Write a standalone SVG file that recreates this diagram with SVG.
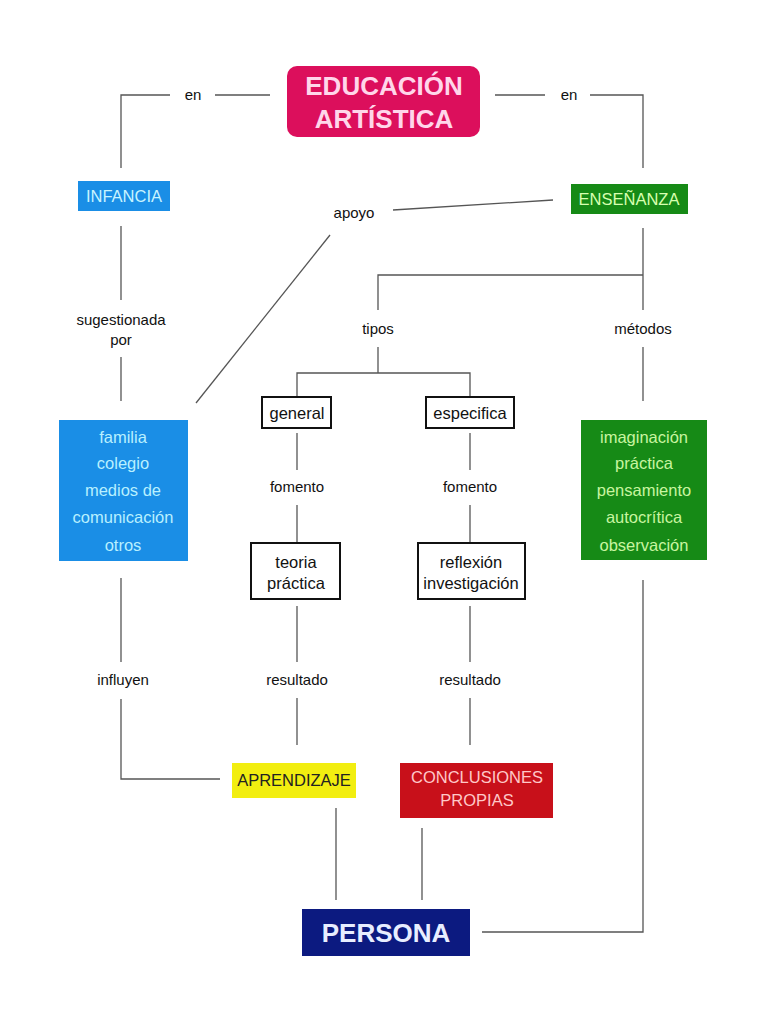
<svg xmlns="http://www.w3.org/2000/svg" width="768" height="1024" viewBox="0 0 768 1024">
<style>
text{font-family:"Liberation Sans",Arial,sans-serif;text-anchor:middle}
.lbl{font-size:15px;fill:#111}
.ln{stroke:#555;stroke-width:1.3;fill:none}
.bx{font-size:16.5px}
.wb{fill:#fff;stroke:#111;stroke-width:2}
</style>
<rect width="768" height="1024" fill="#fff"/>
<g id="connectors">
<polyline class="ln" points="170,95 121,95 121,168"/>
<line class="ln" x1="215" y1="95" x2="270" y2="95"/>
<line class="ln" x1="495" y1="95" x2="545" y2="95"/>
<polyline class="ln" points="590,95 643,95 643,168"/>
<line class="ln" x1="393" y1="210" x2="553" y2="200"/>
<line class="ln" x1="330" y1="235" x2="196" y2="403"/>
<line class="ln" x1="121" y1="226" x2="121" y2="300"/>
<line class="ln" x1="121" y1="357" x2="121" y2="401"/>
<line class="ln" x1="643" y1="228" x2="643" y2="310"/>
<polyline class="ln" points="643,275 378,275 378,310"/>
<line class="ln" x1="643" y1="347" x2="643" y2="401"/>
<line class="ln" x1="378" y1="347" x2="378" y2="373"/>
<polyline class="ln" points="297,396 297,373 470,373 470,396"/>
<line class="ln" x1="297" y1="433" x2="297" y2="470"/>
<line class="ln" x1="297" y1="505" x2="297" y2="542"/>
<line class="ln" x1="470" y1="433" x2="470" y2="470"/>
<line class="ln" x1="470" y1="505" x2="470" y2="542"/>
<line class="ln" x1="297" y1="606" x2="297" y2="662"/>
<line class="ln" x1="297" y1="698" x2="297" y2="745"/>
<line class="ln" x1="470" y1="606" x2="470" y2="662"/>
<line class="ln" x1="470" y1="698" x2="470" y2="745"/>
<line class="ln" x1="121" y1="578" x2="121" y2="662"/>
<polyline class="ln" points="121,699 121,779 220,779"/>
<line class="ln" x1="336" y1="808" x2="336" y2="900"/>
<line class="ln" x1="422" y1="828" x2="422" y2="900"/>
<polyline class="ln" points="643,580 643,932 482,932"/>
<text class="lbl" x="193" y="100">en</text>
<text class="lbl" x="569" y="100">en</text>
<text class="lbl" x="354" y="218">apoyo</text>
<text class="lbl" x="121" y="325">sugestionada</text>
<text class="lbl" x="121" y="345">por</text>
<text class="lbl" x="378" y="334">tipos</text>
<text class="lbl" x="643" y="334">métodos</text>
<text class="lbl" x="297" y="492">fomento</text>
<text class="lbl" x="470" y="492">fomento</text>
<text class="lbl" x="123" y="685">influyen</text>
<text class="lbl" x="297" y="685">resultado</text>
<text class="lbl" x="470" y="685">resultado</text>
</g>
<g id="educacion">
<rect x="287" y="66" width="193" height="71" rx="10" fill="#dc0f5c"/>
<text x="384" y="95" font-size="26" font-weight="bold" fill="#ffd6ea">EDUCACIÓN</text>
<text x="384" y="128" font-size="26" font-weight="bold" fill="#ffd6ea">ARTÍSTICA</text>
</g>
<g id="infancia">
<rect x="78" y="181" width="92" height="30" fill="#1a8ee6"/>
<text class="bx" x="124" y="202" fill="#c8f4ff">INFANCIA</text>
</g>
<g id="ensenanza">
<rect x="571" y="184" width="117" height="30" fill="#168a16"/>
<text class="bx" x="629" y="205" fill="#d8ffb0">ENSEÑANZA</text>
</g>
<g id="familia">
<rect x="59" y="420" width="129" height="141" fill="#1a8ee6"/>
<g class="bx" fill="#b8f0ff">
<text x="123" y="443">familia</text>
<text x="123" y="469">colegio</text>
<text x="123" y="496">medios de</text>
<text x="123" y="523">comunicación</text>
<text x="123" y="551">otros</text>
</g>
</g>
<g id="metodos">
<rect x="581" y="420" width="126" height="140" fill="#168a16"/>
<g class="bx" fill="#c8f5a0">
<text x="644" y="443">imaginación</text>
<text x="644" y="469">práctica</text>
<text x="644" y="496">pensamiento</text>
<text x="644" y="523">autocrítica</text>
<text x="644" y="551">observación</text>
</g>
</g>
<g id="general">
<rect class="wb" x="262" y="397" width="69" height="31"/>
<text class="bx" x="297" y="419" fill="#111">general</text>
</g>
<g id="especifica">
<rect class="wb" x="426" y="397" width="88" height="31"/>
<text class="bx" x="470" y="419" fill="#111">especifica</text>
</g>
<g id="teoria">
<rect class="wb" x="251" y="543" width="89" height="56"/>
<text class="bx" x="296" y="568" fill="#111">teoria</text>
<text class="bx" x="296" y="589" fill="#111">práctica</text>
</g>
<g id="reflexion">
<rect class="wb" x="418" y="543" width="107" height="56"/>
<text class="bx" x="471" y="568" fill="#111">reflexión</text>
<text class="bx" x="471" y="589" fill="#111">investigación</text>
</g>
<g id="aprendizaje">
<rect x="232" y="763" width="124" height="35" fill="#f2ee10"/>
<text class="bx" x="294" y="786" fill="#222">APRENDIZAJE</text>
</g>
<g id="conclusiones">
<rect x="400" y="763" width="153" height="55" fill="#c8101a"/>
<text class="bx" x="477" y="783" fill="#ffc8c8">CONCLUSIONES</text>
<text class="bx" x="477" y="806" fill="#ffc8c8">PROPIAS</text>
</g>
<g id="persona">
<rect x="302" y="909" width="168" height="47" fill="#0c1a80"/>
<text x="386" y="942" font-size="26" font-weight="bold" fill="#e8eeff">PERSONA</text>
</g>
</svg>
